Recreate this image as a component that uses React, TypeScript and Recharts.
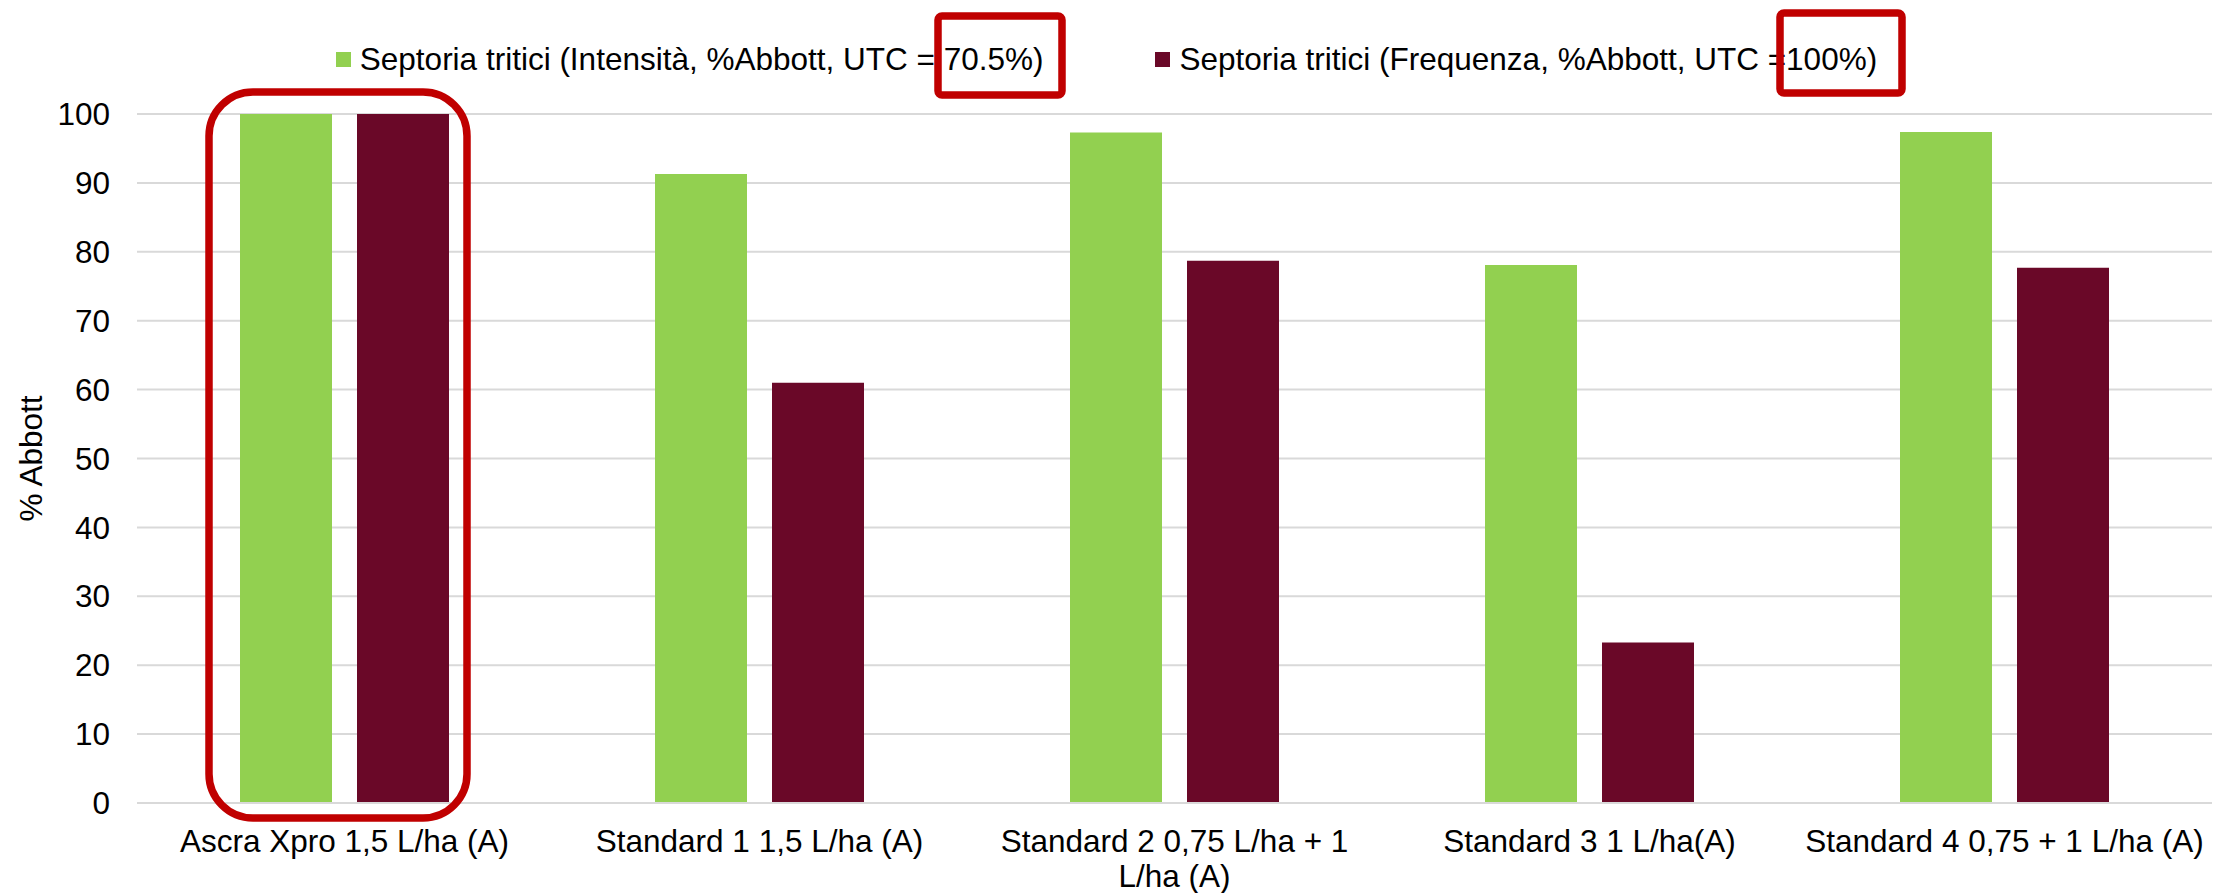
import { BarChart, Bar, XAxis, YAxis, CartesianGrid, Legend } from 'recharts';

const CATEGORIES = [
  'Ascra Xpro 1,5 L/ha (A)',
  'Standard 1 1,5 L/ha (A)',
  'Standard 2 0,75 L/ha + 1 L/ha (A)',
  'Standard 3 1 L/ha(A)',
  'Standard 4 0,75 + 1 L/ha (A)',
];

// how each tick label breaks into lines
const CATEGORY_LINES = [
  ['Ascra Xpro 1,5 L/ha (A)'],
  ['Standard 1 1,5 L/ha (A)'],
  ['Standard 2 0,75 L/ha + 1', 'L/ha (A)'],
  ['Standard 3 1 L/ha(A)'],
  ['Standard 4 0,75 + 1 L/ha (A)'],
];

const INTENSITA = [100, 91.3, 97.3, 78.1, 97.4];
const FREQUENZA = [100, 61.0, 78.7, 23.3, 77.7];

const SERIES_NAMES = [
  'Septoria tritici (Intensità, %Abbott, UTC = 70.5%)',
  'Septoria tritici (Frequenza, %Abbott, UTC =100%)',
];
const SERIES_COLORS = ['#92D050', '#6A0828'];

const Y_TICKS = [0, 10, 20, 30, 40, 50, 60, 70, 80, 90, 100];

const W = 2213;
const H = 893;
const FONT = '"Liberation Sans", Arial, sans-serif';
const FS = 31.5;
const PLOT_LEFT = 137;
const PLOT_TOP = 114;
const PLOT_BOTTOM = 803;
const LEGEND_H = 40;
const BAND = (W - 1 - PLOT_LEFT) / CATEGORIES.length;
const BAR = 92;
const GAP = 25;

const data = CATEGORIES.map((name, i) => ({
  name,
  intensita: INTENSITA[i],
  frequenza: FREQUENZA[i],
}));

function XTick(props: any) {
  const { x, y, payload } = props;
  const lines = CATEGORY_LINES[payload.index] || [payload.value];
  return (
    <text x={x} y={y + 49} textAnchor="middle" fill="#000" fontSize={FS} fontFamily={FONT}>
      {lines.map((l: string, i: number) => (
        <tspan key={i} x={x} dy={i === 0 ? 0 : 35}>
          {l}
        </tspan>
      ))}
    </text>
  );
}

function LegendContent() {
  return (
    <div
      style={{
        display: 'flex',
        justifyContent: 'center',
        alignItems: 'center',
        gap: 112,
        height: LEGEND_H,
        fontFamily: FONT,
        fontSize: FS,
        color: '#000',
        whiteSpace: 'nowrap',
      }}
    >
      {SERIES_NAMES.map((n, i) => (
        <div key={n} style={{ display: 'flex', alignItems: 'center' }}>
          <span style={{ width: 15, height: 15, background: SERIES_COLORS[i], marginRight: 9, display: 'inline-block' }} />
          <span>{n}</span>
        </div>
      ))}
    </div>
  );
}

export default function App() {
  // first group's bars, for the highlight box
  const g0Left = PLOT_LEFT + (BAND - 2 * BAR - GAP) / 2;
  const g0Right = g0Left + 2 * BAR + GAP;

  return (
    <div style={{ position: 'absolute', left: 0, top: 0, width: W, height: H, background: '#fff' }}>
      <BarChart
        width={W}
        height={H}
        data={data}
        margin={{ top: PLOT_TOP - LEGEND_H, right: 1, bottom: 0, left: 0 }}
        barGap={GAP}
        barSize={BAR}
      >
        <CartesianGrid vertical={false} stroke="#d9d9d9" strokeWidth={2} />
        <XAxis
          dataKey="name"
          interval={0}
          tickLine={false}
          tickSize={0}
          tickMargin={0}
          axisLine={{ stroke: '#d9d9d9', strokeWidth: 2 }}
          tick={<XTick />}
          height={H - PLOT_BOTTOM}
        />
        <YAxis
          width={PLOT_LEFT}
          domain={[0, 100]}
          ticks={Y_TICKS}
          interval={0}
          tickLine={false}
          axisLine={false}
          tickSize={0}
          tickMargin={27}
          tick={{ fill: '#000', fontSize: FS, fontFamily: FONT }}
          label={({ viewBox }: any) => (
            <text
              x={31}
              y={viewBox.y + viewBox.height / 2}
              transform={`rotate(-90, 31, ${viewBox.y + viewBox.height / 2})`}
              textAnchor="middle"
              dominantBaseline="central"
              fill="#000"
              fontSize={FS}
              fontFamily={FONT}
            >
              % Abbott
            </text>
          )}
        />
        <Legend verticalAlign="top" content={<LegendContent />} wrapperStyle={{ left: 0, top: 39, width: W }} />
        <Bar dataKey="intensita" name={SERIES_NAMES[0]} fill={SERIES_COLORS[0]} isAnimationActive={false} />
        <Bar dataKey="frequenza" name={SERIES_NAMES[1]} fill={SERIES_COLORS[1]} isAnimationActive={false} />
      </BarChart>
      <svg width={W} height={H} style={{ position: 'absolute', left: 0, top: 0, pointerEvents: 'none' }}>
        <rect
          x={g0Left - 31}
          y={PLOT_TOP - 22}
          width={g0Right - g0Left + 49}
          height={PLOT_BOTTOM - PLOT_TOP + 37}
          rx={44}
          ry={44}
          fill="none"
          stroke="#C00000"
          strokeWidth={7.5}
        />
        <rect x={938} y={16} width={124} height={79} rx={4} fill="none" stroke="#C00000" strokeWidth={7.5} />
        <rect x={1780} y={13} width={122} height={80} rx={4} fill="none" stroke="#C00000" strokeWidth={7.5} />
      </svg>
    </div>
  );
}
